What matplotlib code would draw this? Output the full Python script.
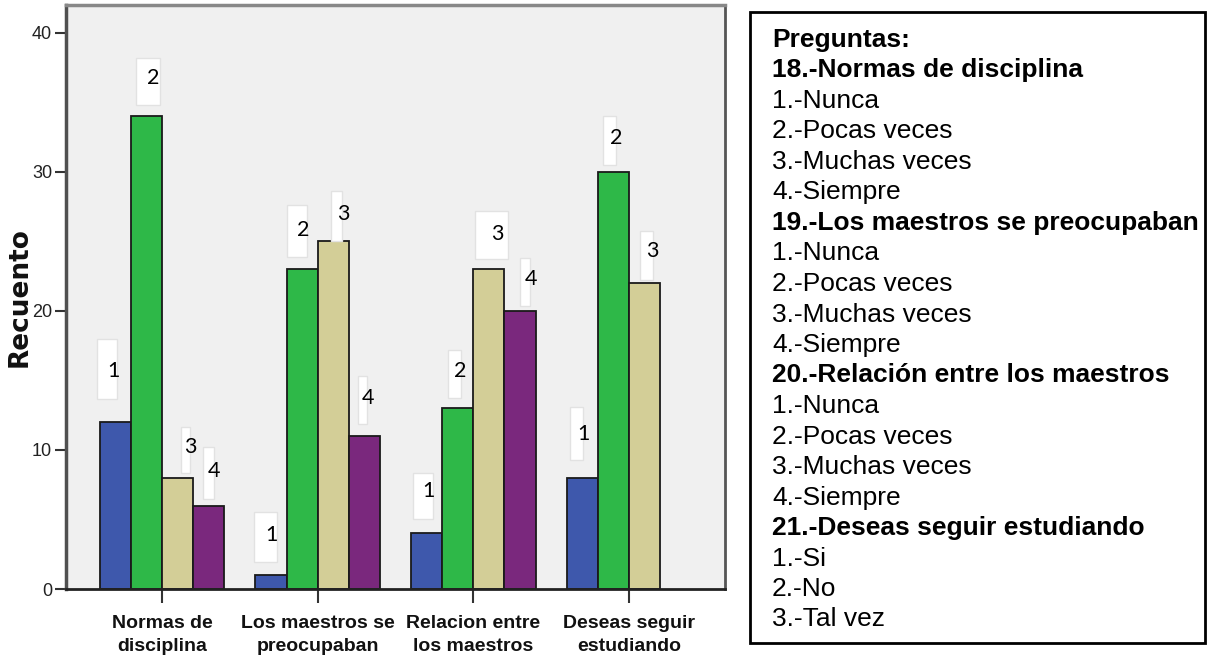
import matplotlib
matplotlib.use("Agg")
import matplotlib.pyplot as plt
from matplotlib.patches import Rectangle
import numpy as np

# ---- data ----
categories = ["Normas de\ndisciplina", "Los maestros se\npreocupaban",
              "Relacion entre\nlos maestros", "Deseas seguir\nestudiando"]
series_names = ["1", "2", "3", "4"]
val_1 = [12, 1, 4, 8]
val_2 = [34, 23, 13, 30]
val_3 = [8, 25, 23, 22]
val_4 = [6, 11, 20, None]
y_ticks = [0, 10, 20, 30, 40]

legend_lines = [
    ("Preguntas:", True),
    ("18.-Normas de disciplina", True),
    ("1.-Nunca", False), ("2.-Pocas veces", False), ("3.-Muchas veces", False), ("4.-Siempre", False),
    ("19.-Los maestros se preocupaban", True),
    ("1.-Nunca", False), ("2.-Pocas veces", False), ("3.-Muchas veces", False), ("4.-Siempre", False),
    ("20.-Relación entre los maestros", True),
    ("1.-Nunca", False), ("2.-Pocas veces", False), ("3.-Muchas veces", False), ("4.-Siempre", False),
    ("21.-Deseas seguir estudiando", True),
    ("1.-Si", False), ("2.-No", False), ("3.-Tal vez", False),
]

# ---- styles / layout ----
colors = ["#3E58AC", "#2EB848", "#D3CE97", "#7A287D"]
W, H = 1207, 659
bar_w = 0.2
# label layout per (group, series): text offset dx px from bar center, dy px above bar top,
# box left/right extent px relative to text center, box height px, box center offset px
label_layout = {
    (0, 0): (-2, 51, 16, 4, 60, 2), (0, 1): (7, 38, 17, 7, 47, -3),
    (0, 2): (13, 31, 10, -1, 46, -3), (0, 3): (5, 35, 11, 0, 52, -2),
    (1, 0): (1, 40, 18, 5, 50, -2), (1, 1): (1, 39, 16, 4, 52, -1),
    (1, 2): (10, 27, 12, -1, 50, -2), (1, 3): (4, 38, 10, -1, 48, -2),
    (2, 0): (2, 42, 16, 4, 46, -5), (2, 1): (2, 37, 12, 1, 48, -3),
    (2, 2): (8, 35, 22, 11, 48, -1), (2, 3): (11, 32, 11, -1, 48, -3),
    (3, 0): (1, 44, 13, 0, 53, 0), (3, 1): (3, 34, 13, 0, 49, -3),
    (3, 2): (8, 32, 13, 0, 49, -4),
}

sans = ["Liberation Sans", "DejaVu Sans"]

fig = plt.figure(figsize=(W / 100, H / 100), dpi=100)
ax_left, ax_right, ax_top, ax_bot = 66, 725, 5, 589
ax = fig.add_axes([ax_left / W, 1 - ax_bot / H, (ax_right - ax_left) / W, (ax_bot - ax_top) / H])
ax.set_facecolor("#F0F0F0")
ax.set_xlim(-0.617, 3.617)
ax.set_ylim(0, 42.0)

x = np.arange(len(categories))
all_vals = [val_1, val_2, val_3, val_4]
offsets = [-1.5, -0.5, 0.5, 1.5]
for s, vals in enumerate(all_vals):
    for g, v in enumerate(vals):
        if v is None:
            continue
        ax.bar(x[g] + offsets[s] * bar_w, v, width=bar_w, color=colors[s],
               edgecolor="#1a1a1a", linewidth=1.3, zorder=2)

pxu_x = (ax_right - ax_left) / (ax.get_xlim()[1] - ax.get_xlim()[0])
pxu_y = (ax_bot - ax_top) / (ax.get_ylim()[1] - ax.get_ylim()[0])
for s, vals in enumerate(all_vals):
    for g, v in enumerate(vals):
        if v is None:
            continue
        dx, dy, bl, br, bh, bc = label_layout[(g, s)]
        cx = x[g] + offsets[s] * bar_w + dx / pxu_x
        cy = v + dy / pxu_y
        rect = Rectangle((cx - bl / pxu_x, cy + bc / pxu_y - bh / 2 / pxu_y),
                         (bl + br) / pxu_x, bh / pxu_y, facecolor="white",
                         edgecolor="#E2E2E2", linewidth=1.0, zorder=3)
        ax.add_patch(rect)
        ax.text(cx, cy, series_names[s], ha="center", va="center", fontsize=15.5,
                family=["Lato", "DejaVu Sans"], color="black", zorder=4)

ax.set_xticks(x)
ax.set_xticklabels(categories, fontsize=14, fontweight="bold", family=sans,
                   linespacing=1.4, color="#111111")
ax.set_yticks(y_ticks)
ax.set_yticklabels([str(t) for t in y_ticks], fontsize=13, family=sans, color="#222222")
ax.tick_params(axis="x", length=10, width=1.5, color="#333333", pad=9)
ax.tick_params(axis="y", length=8, width=1.5, color="#333333", pad=2)

ax.spines["left"].set_color("#505050")
ax.spines["left"].set_linewidth(2.5)
ax.spines["bottom"].set_color("#222222")
ax.spines["bottom"].set_linewidth(2)
ax.spines["top"].set_color("#888888")
ax.spines["top"].set_linewidth(2.5)
ax.spines["right"].set_color("#555555")
ax.spines["right"].set_linewidth(2)

fig.text(20 / W, 1 - 297 / H, "Recuento", rotation=90, ha="center", va="center",
         fontsize=19, fontweight="bold", family="DejaVu Sans", color="#111111")

# right-side text box
box_l, box_r, box_t, box_b = 750, 1205, 12, 643
fig.patches.append(Rectangle((box_l / W, 1 - box_b / H), (box_r - box_l) / W, (box_b - box_t) / H,
                             transform=fig.transFigure, facecolor="white", edgecolor="black",
                             linewidth=2, zorder=1))
y0, dy_line = 40, 30.5
for i, (txt, bold) in enumerate(legend_lines):
    fig.text(772 / W, 1 - (y0 + i * dy_line) / H, txt, ha="left", va="center",
             fontsize=19, fontweight="bold" if bold else "normal",
             family=sans, color="black", zorder=2)

fig.savefig("out.png", dpi=100)
